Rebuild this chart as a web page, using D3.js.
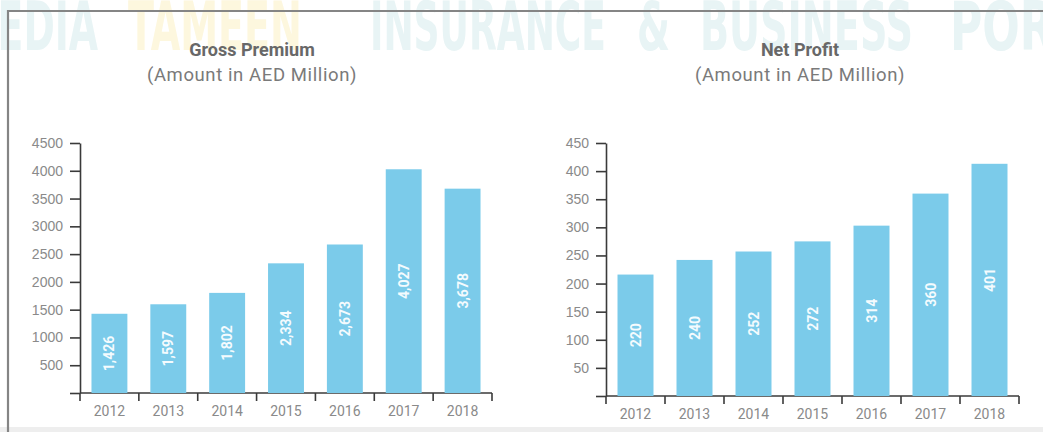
<!DOCTYPE html>
<html>
<head>
<meta charset="utf-8">
<script src="https://cdn.jsdelivr.net/npm/d3@7"></script>
<style>
  body { margin: 0; background: #fff; }
  svg { display: block; font-family: Roboto, "Noto Sans", sans-serif; }
  .tick text { fill: #8a8a8a; font-size: 14px; }
  .axis path, .axis line { stroke: #3a3a3a; stroke-width: 1.6px; }
</style>
</head>
<body>
<svg id="chart" width="1043" height="432"></svg>
<script>
"use strict";

// chart data
const years = ["2012", "2013", "2014", "2015", "2016", "2017", "2018"];
const grossPremium = [1426, 1597, 1802, 2334, 2673, 4027, 3678];
const grossLabels = ["1,426", "1,597", "1,802", "2,334", "2,673", "4,027", "3,678"];
// bar heights as drawn in the picture (printed labels differ slightly)
const netProfit = [216, 242, 257, 275, 303, 360, 413];
const netLabels = ["220", "240", "252", "272", "314", "360", "401"];
const grossTicks = [0, 500, 1000, 1500, 2000, 2500, 3000, 3500, 4000, 4500];
const netTicks = [0, 50, 100, 150, 200, 250, 300, 350, 400, 450];

const barColor = "#7bcbea";

let svg = d3.select("#chart");

/*****
Background watermark + frame
*****/
let wm = [
  {t: "MEDIA", x: -40, w: 138, c: "#e8f4f5"},
  {t: "TAMEEN", x: 128, w: 174, c: "#fdf7de"},
  {t: "INSURANCE", x: 370, w: 236, c: "#e8f4f5"},
  {t: "&", x: 637, w: 33, c: "#e8f4f5"},
  {t: "BUSINESS", x: 700, w: 213, c: "#e8f4f5"},
  {t: "PORTAL", x: 950, w: 190, c: "#e8f4f5"}
];
svg.append("g").selectAll("text").data(wm).enter()
  .append("text")
  .attr("x", d => d.x)
  .attr("y", 50)
  .attr("textLength", d => d.w)
  .attr("lengthAdjust", "spacingAndGlyphs")
  .style("font-family", "'DejaVu Sans Condensed', 'DejaVu Sans', sans-serif")
  .style("font-weight", "bold")
  .style("font-size", "68px")
  .style("fill", d => d.c)
  .text(d => d.t);

// frame lines
svg.append("rect").attr("x", 0).attr("y", 427).attr("width", 1043).attr("height", 5).attr("fill", "#eeeeee");
svg.append("line").attr("x1", 8).attr("x2", 1043).attr("y1", 11).attr("y2", 11)
  .attr("stroke", "#858585").attr("stroke-width", 2.2);
svg.append("line").attr("x1", 8).attr("x2", 8).attr("y1", 10).attr("y2", 432)
  .attr("stroke", "#858585").attr("stroke-width", 2.2);

/*****
One bar chart panel
*****/
function drawPanel(opt) {
  let g = svg.append("g");

  // titles
  g.append("text")
    .attr("x", opt.cx).attr("y", 56)
    .attr("text-anchor", "middle")
    .style("font-size", "18px").style("font-weight", "bold").style("fill", "#686868")
    .text(opt.title);
  g.append("text")
    .attr("x", opt.cx).attr("y", 81)
    .attr("text-anchor", "middle")
    .style("font-size", "18.5px").style("letter-spacing", "0.6px").style("fill", "#7a7a7a")
    .text("(Amount in AED Million)");

  let x = d3.scaleBand().domain(years).range(opt.xr)
    .paddingInner(0.39).paddingOuter(0.195);
  let y = d3.scaleLinear().domain([0, opt.max]).range(opt.yr);

  // y axis
  g.append("g")
    .attr("class", "axis")
    .attr("transform", `translate(${opt.xr[0]},0)`)
    .call(d3.axisLeft(y).tickValues(opt.ticks).tickSize(10).tickSizeOuter(0)
      .tickFormat(d => d === 0 ? "" : d))
    .call(a => a.selectAll("text").attr("x", -17));

  // x axis line + boundary ticks
  let step = x.step();
  let x0 = x(years[0]) - step * x.paddingInner() / 2;
  g.append("line").attr("class", "axisline")
    .attr("x1", opt.xr[0]).attr("x2", opt.xr[1])
    .attr("y1", opt.yr[0]).attr("y2", opt.yr[0])
    .attr("stroke", "#3a3a3a").attr("stroke-width", 1.6);
  g.selectAll(".xtick").data(d3.range(years.length + 1)).enter()
    .append("line")
    .attr("class", "xtick")
    .attr("x1", i => x0 + i * step).attr("x2", i => x0 + i * step)
    .attr("y1", opt.yr[0]).attr("y2", opt.yr[0] + 8)
    .attr("stroke", "#3a3a3a").attr("stroke-width", 1.6);
  g.selectAll(".xlabel").data(years).enter()
    .append("text")
    .attr("class", "xlabel")
    .attr("x", d => x(d) + x.bandwidth() / 2)
    .attr("y", opt.yr[0] + 23)
    .attr("text-anchor", "middle")
    .style("font-size", "14px").style("fill", "#8a8a8a")
    .text(d => d);

  // bars
  g.selectAll(".bar").data(opt.values).enter()
    .append("rect")
    .attr("class", "bar")
    .attr("x", (d, i) => x(years[i]))
    .attr("width", x.bandwidth())
    .attr("y", d => y(d))
    .attr("height", d => y(0) - y(d))
    .attr("fill", barColor);

  // values inside bars, rotated
  g.selectAll(".barlabel").data(opt.values).enter()
    .append("text")
    .attr("class", "barlabel")
    .attr("transform", (d, i) => {
      let cx = x(years[i]) + x.bandwidth() / 2;
      let cy = (y(d) + y(0)) / 2;
      return `translate(${cx + 5},${cy})rotate(-90)`;
    })
    .attr("text-anchor", "middle")
    .style("font-size", "14px").style("font-weight", "bold").style("fill", "#f4fbfe")
    .text((d, i) => opt.labels[i]);
}

drawPanel({title: "Gross Premium", cx: 252, xr: [80, 492], yr: [393, 143], max: 4500,
  ticks: grossTicks, values: grossPremium, labels: grossLabels});
drawPanel({title: "Net Profit", cx: 800, xr: [606, 1019], yr: [396, 143], max: 450,
  ticks: netTicks, values: netProfit, labels: netLabels});
</script>
</body>
</html>
